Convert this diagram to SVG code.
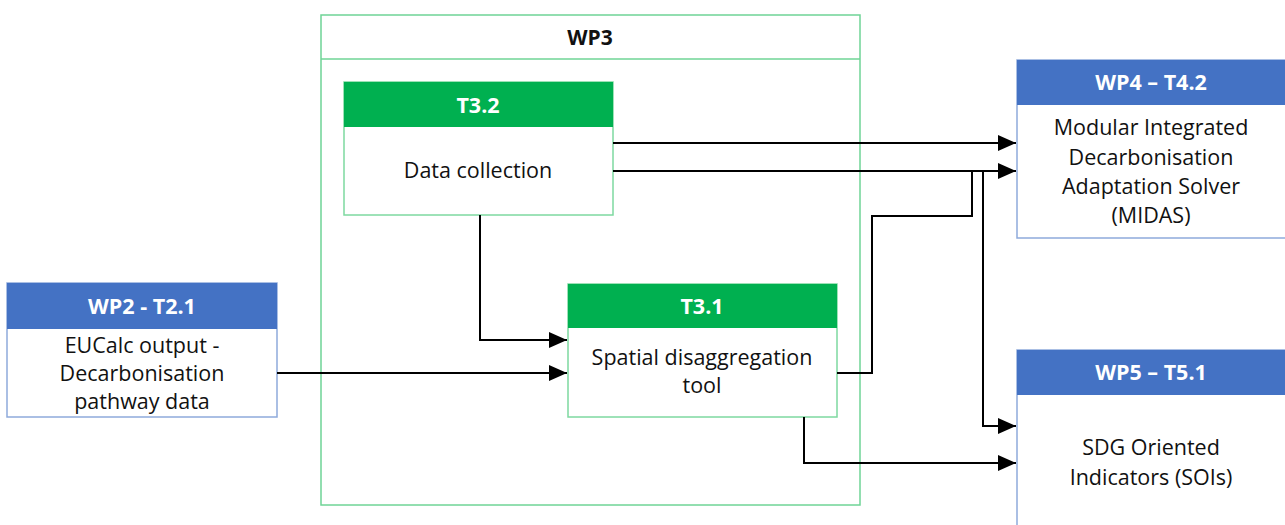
<svg xmlns="http://www.w3.org/2000/svg" width="1285" height="525" viewBox="0 0 1285 525">
  <style>
    .txt { font-family: "Open Sans", "Liberation Sans", sans-serif; font-size: 21.5px; fill: #111; text-anchor: middle; }
    .hdr { font-family: "Open Sans", "Liberation Sans", sans-serif; font-size: 21.5px; font-weight: bold; fill: #ffffff; text-anchor: middle; }
    .ttl { font-family: "Open Sans", "Liberation Sans", sans-serif; font-size: 21px; font-weight: bold; fill: #111; text-anchor: middle; }
    .bluebox { fill: #ffffff; stroke: #8eaadb; stroke-width: 1.5; }
    .bluehead { fill: #4472c4; }
    .greenbox { fill: #ffffff; stroke: #7ed9a0; stroke-width: 1.5; }
    .greenhead { fill: #00b050; }
    .frame { fill: none; stroke: #6fd496; stroke-width: 1.5; }
    .conn { fill: none; stroke: #000; stroke-width: 2; }
  </style>
  <defs>
    <marker id="arrow" markerWidth="9" markerHeight="8" refX="9" refY="4" orient="auto" markerUnits="strokeWidth">
      <path d="M0,0 L9,4 L0,8 Z" fill="#000"/>
    </marker>
  </defs>

  <rect width="1285" height="525" fill="#ffffff"/>

  <!-- WP3 container -->
  <g id="wp3">
    <rect class="frame" x="321" y="15" width="539" height="490"/>
    <line class="frame" x1="321" y1="59" x2="860" y2="59"/>
    <text class="ttl" x="590" y="45">WP3</text>
  </g>

  <!-- WP2 - T2.1 -->
  <g id="wp2">
    <rect class="bluebox" x="7" y="283" width="270" height="134"/>
    <rect class="bluehead" x="7" y="283" width="270" height="46"/>
    <text class="hdr" x="142" y="314">WP2 - T2.1</text>
    <text class="txt" x="142" y="353">EUCalc output -</text>
    <text class="txt" x="142" y="381">Decarbonisation</text>
    <text class="txt" x="142" y="409">pathway data</text>
  </g>

  <!-- T3.2 -->
  <g id="t32">
    <rect class="greenbox" x="344" y="82" width="269" height="133"/>
    <rect class="greenhead" x="344" y="82" width="269" height="45"/>
    <text class="hdr" x="478" y="113">T3.2</text>
    <text class="txt" x="478" y="178">Data collection</text>
  </g>

  <!-- T3.1 -->
  <g id="t31">
    <rect class="greenbox" x="568" y="284" width="269" height="133"/>
    <rect class="greenhead" x="568" y="284" width="269" height="44"/>
    <text class="hdr" x="702" y="314">T3.1</text>
    <text class="txt" x="702" y="365">Spatial disaggregation</text>
    <text class="txt" x="702" y="393">tool</text>
  </g>

  <!-- WP4 - T4.2 -->
  <g id="wp4">
    <rect class="bluebox" x="1017" y="60" width="280" height="178"/>
    <rect class="bluehead" x="1017" y="60" width="280" height="45"/>
    <text class="hdr" x="1151" y="90">WP4 – T4.2</text>
    <text class="txt" x="1151" y="135">Modular Integrated</text>
    <text class="txt" x="1151" y="165">Decarbonisation</text>
    <text class="txt" x="1151" y="194">Adaptation Solver</text>
    <text class="txt" x="1151" y="223">(MIDAS)</text>
  </g>

  <!-- WP5 - T5.1 -->
  <g id="wp5">
    <rect class="bluebox" x="1017" y="350" width="280" height="190"/>
    <rect class="bluehead" x="1017" y="350" width="280" height="45"/>
    <text class="hdr" x="1151" y="380">WP5 – T5.1</text>
    <text class="txt" x="1151" y="455">SDG Oriented</text>
    <text class="txt" x="1151" y="485">Indicators (SOIs)</text>
  </g>

  <!-- Connectors -->
  <g id="connectors">
    <path class="conn" d="M613,143 H1016" marker-end="url(#arrow)"/>
    <path class="conn" d="M613,171 H1016" marker-end="url(#arrow)"/>
    <path class="conn" d="M837,373 H872 V216 H972 V171"/>
    <path class="conn" d="M983,171 V426 H1016" marker-end="url(#arrow)"/>
    <path class="conn" d="M480,215 V340 H567" marker-end="url(#arrow)"/>
    <path class="conn" d="M277,373 H567" marker-end="url(#arrow)"/>
    <path class="conn" d="M804,417 V463 H1016" marker-end="url(#arrow)"/>
  </g>
</svg>
